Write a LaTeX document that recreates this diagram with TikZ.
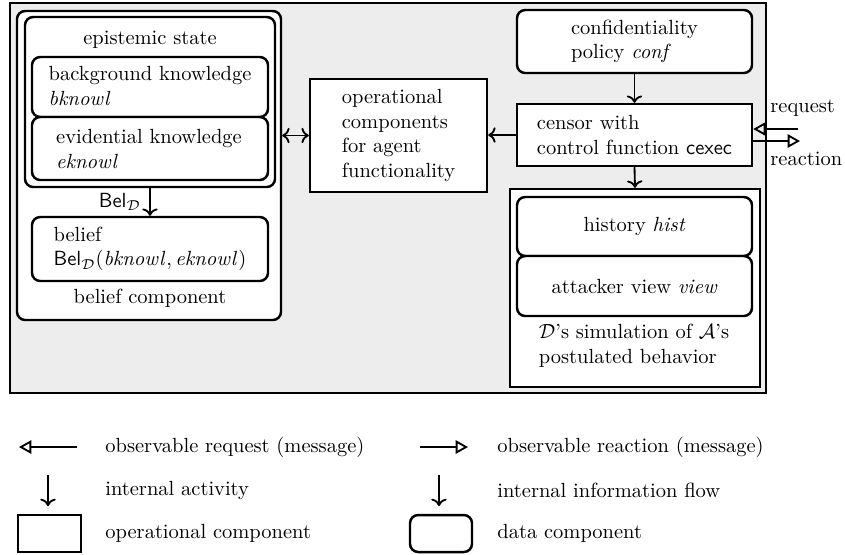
\documentclass[tikz,border=0pt]{standalone}
\usetikzlibrary{arrows.meta,fit}
\begin{document}
\begin{tikzpicture}[x=0.488pt,y=-0.488pt,
  frame/.style={draw, line width=1.2pt, inner sep=0pt},
  opbox/.style={frame, rectangle, fill=white},
  databox/.style={frame, rounded corners=4pt, fill=white},
  txt/.style={inner sep=0pt, align=left},
  flow/.style={->, line width=0.9pt},
  both/.style={<->, line width=0.9pt},
  obs/.style={-{Triangle[open,length=6pt,width=6.5pt]}, line width=0.9pt}]
\useasboundingbox (0,0) rectangle (845,554);

% system boundary
\node[frame, fill=black!7, fit={(10,3) (766,393)}] (sys) {};

% belief component
\node[databox, fit={(17,11) (281,320)}] (belcomp) {};
\node[databox, fit={(25,17) (275,187)}] (epi) {};
\node[txt] (epilbl) at (150,40) {epistemic state};
\node[databox, fit={(32,57) (268,117)}] (bk) {};
\node[txt] (bktxt) at (150,86) {background knowledge\\\textit{bknowl}};
\node[databox, fit={(32,117) (268,180)}] (ek) {};
\node[txt] (ektxt) at (149,149) {evidential knowledge\\\textit{eknowl}};
\node[databox, fit={(32,217) (268,281)}] (bel) {};
\node[txt] (beltxt) at (bel.center) {belief\\$\mathsf{Bel}_{\mathcal{D}}(\mathit{bknowl},\mathit{eknowl})$};
\node[txt] (bellbl) at (150,298) {belief component};
\draw[flow] (epi.south) -- (bel.north) node[midway, left=4pt, inner sep=0pt] (belop) {$\mathsf{Bel}_{\mathcal{D}}$};

% operational part
\node[opbox, fit={(310,79) (487,192)}] (ops) {};
\node[txt] (opstxt) at (ops.center) {operational\\components\\for agent\\functionality};
\node[databox, fit={(517,10) (752,73)}] (conf) {};
\node[txt] (conftxt) at (conf.center) {confidentiality\\policy \textit{conf}};
\node[opbox, fit={(517,104) (752,166)}] (cen) {};
\node[txt] (centxt) at (cen.center) {censor with\\control function \textsf{cexec}};

% simulation of the attacker
\node[opbox, fit={(510,189) (760,387)}] (sim) {};
\node[databox, fit={(517,197) (752,256)}] (hist) {};
\node[txt] (histtxt) at (hist.center) {history \textit{hist}};
\node[databox, fit={(517,256) (752,316)}] (view) {};
\node[txt] (viewtxt) at (view.center) {attacker view \textit{view}};
\node[txt] (simlbl) at (634,346) {$\mathcal{D}$'s simulation of $\mathcal{A}$'s\\postulated behavior};

% internal connections
\draw[both] (ops.west) -- (ops.west -| belcomp.east);
\draw[flow] (cen.west) -- (cen.west -| ops.east);
\draw[flow] (conf.south) -- (cen.north);
\draw[flow] (cen.south) -- (sim.north);

% interface to the outside
\coordinate (reqin) at (798,129);
\coordinate (reaout) at (800,141);
\draw[obs] (reqin) -- (reqin -| cen.east);
\draw[obs] (reaout -| cen.east) -- (reaout);
\node[txt, anchor=west] (reqlbl) at (770,108) {request};
\node[txt, anchor=west] (realbl) at (770,159) {reaction};

% legend
\coordinate (lreqa) at (77,447);
\coordinate (lreqb) at (19,447);
\draw[obs] (lreqa) -- (lreqb);
\node[txt, anchor=west] (lreq) at (105,447) {observable request (message)};
\coordinate (lreaa) at (420,447);
\coordinate (lreab) at (468,447);
\draw[obs] (lreaa) -- (lreab);
\node[txt, anchor=west] (lrea) at (497,447) {observable reaction (message)};

\coordinate (lacta) at (48,475);
\coordinate (lactb) at (48,506);
\draw[flow] (lacta) -- (lactb);
\node[txt, anchor=west] (lact) at (105,490) {internal activity};
\coordinate (linfa) at (439,475);
\coordinate (linfb) at (439,506);
\draw[flow] (linfa) -- (linfb);
\node[txt, anchor=west] (linf) at (497,490) {internal information flow};

\node[opbox, fit={(18,515) (81,552)}] (lop) {};
\node[txt, anchor=west] (loplbl) at (105,533) {operational component};
\node[databox, fit={(410,515) (472,552)}] (ldata) {};
\node[txt, anchor=west] (ldatalbl) at (497,533) {data component};
\end{tikzpicture}
\end{document}
